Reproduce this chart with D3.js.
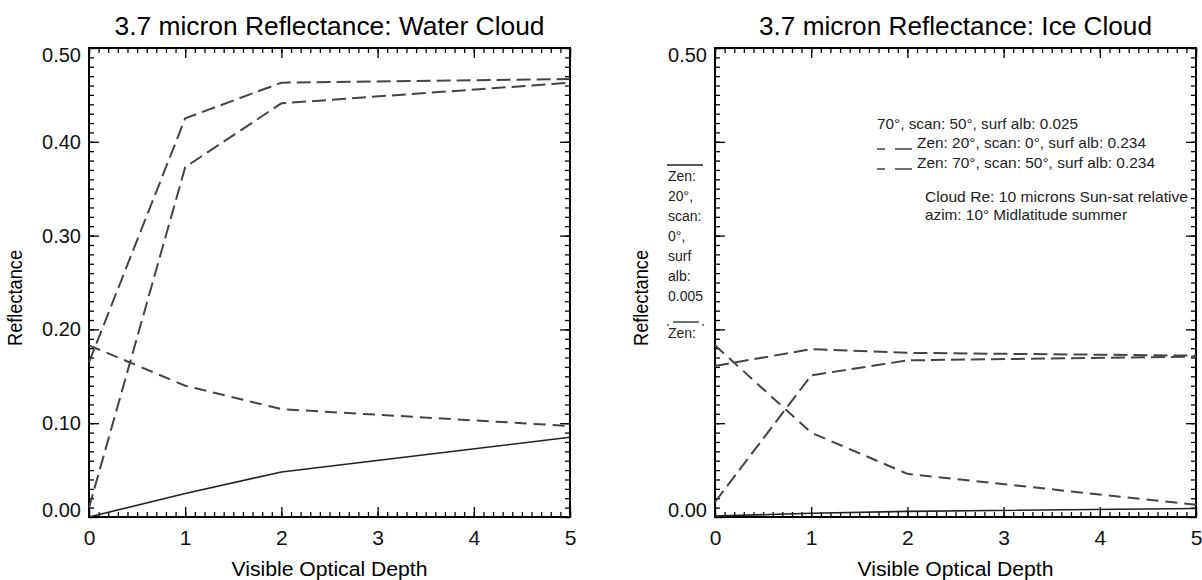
<!DOCTYPE html>
<html>
<head>
<meta charset="utf-8">
<script src="https://cdn.jsdelivr.net/npm/d3@7"></script>
<style>
    body { margin: 0; background: #fff; }
    svg { display: block; font-family: "Liberation Sans", Arial, sans-serif; }
    .tick line { stroke: #000; stroke-width: 1.3; }
    .tick text { font-size: 20px; fill: #111; }
    .series { fill: none; }
    .legend text { fill: #222; }
</style>
</head>
<body>
<svg id="chart"></svg>
<script>
// optical depths at which the model was run
var depth = [0, 1, 2, 5];

// Water cloud reflectances
var waterZen20Alb005 = [0.000, 0.025, 0.048, 0.085];
var waterZen70Alb025 = [0.165, 0.425, 0.463, 0.467];
var waterZen20Alb234 = [0.010, 0.373, 0.441, 0.463];
var waterZen70Alb234 = [0.183, 0.140, 0.115, 0.097];

// Ice cloud reflectances
var iceZen20Alb005 = [0.001, 0.004, 0.006, 0.009];
var iceZen70Alb025 = [0.161, 0.179, 0.175, 0.172];
var iceZen20Alb234 = [0.016, 0.151, 0.167, 0.171];
var iceZen70Alb234 = [0.183, 0.090, 0.046, 0.013];

var xTicks = [0, 1, 2, 3, 4, 5];
var yTicks = [0, 0.1, 0.2, 0.3, 0.4, 0.5];

var width = 1202, height = 580;
var top_ = 48, bottom_ = 517, panelW = 481;

var svg = d3.select("#chart")
    .attr("width", width)
    .attr("height", height);

var panels = [
    {
        left: 89,
        title: "3.7 micron Reflectance: Water Cloud",
        titleLen: 430,
        series: [
            {values: waterZen20Alb005, dash: null},
            {values: waterZen70Alb025, dash: "14,6"},
            {values: waterZen20Alb234, dash: "14,6"},
            {values: waterZen70Alb234, dash: "12,7"}
        ],
        allLabels: true
    },
    {
        left: 715,
        title: "3.7 micron Reflectance: Ice Cloud",
        titleLen: 393,
        series: [
            {values: iceZen20Alb005, dash: null},
            {values: iceZen70Alb025, dash: "14,6"},
            {values: iceZen20Alb234, dash: "14,6"},
            {values: iceZen70Alb234, dash: "12,7"}
        ],
        allLabels: false
    }
];

panels.forEach(function(p) {
    var x = d3.scaleLinear().domain([0, 5]).range([p.left, p.left + panelW]);
    var y = d3.scaleLinear().domain([0, 0.5]).range([bottom_, top_]);
    var g = svg.append("g");

    // minor ticks on all four sides
    var xMinor = d3.range(0, 5.001, 0.1).map(function(v) { return +v.toFixed(2); });
    var yMinor = d3.range(0, 0.5001, 0.01).map(function(v) { return +v.toFixed(3); });

    g.append("g").attr("transform", "translate(0," + bottom_ + ")")
        .call(d3.axisBottom(x).tickValues(xMinor).tickSize(-5).tickFormat(""));
    g.append("g").attr("transform", "translate(0," + top_ + ")")
        .call(d3.axisTop(x).tickValues(xMinor).tickSize(-5).tickFormat(""));
    g.append("g").attr("transform", "translate(" + p.left + ",0)")
        .call(d3.axisLeft(y).tickValues(yMinor).tickSize(-5).tickFormat(""));
    g.append("g").attr("transform", "translate(" + (p.left + panelW) + ",0)")
        .call(d3.axisRight(y).tickValues(yMinor).tickSize(-5).tickFormat(""));

    // major ticks + labels
    var xl = g.append("g").attr("transform", "translate(0," + bottom_ + ")")
        .call(d3.axisBottom(x).tickValues(xTicks).tickSize(-10).tickPadding(13)
            .tickFormat(d3.format("d")));
    xl.selectAll(".tick text").style("font-size", "21px");
    g.append("g").attr("transform", "translate(0," + top_ + ")")
        .call(d3.axisTop(x).tickValues(xTicks).tickSize(-10).tickFormat(""));
    var yl = g.append("g").attr("transform", "translate(" + p.left + ",0)")
        .call(d3.axisLeft(y).tickValues(yTicks).tickSize(-10).tickPadding(8)
            .tickFormat(function(d) {
                if (p.allLabels || d == 0 || d == 0.5) return d3.format(".2f")(d);
                return "";
            }));
    g.append("g").attr("transform", "translate(" + (p.left + panelW) + ",0)")
        .call(d3.axisRight(y).tickValues(yTicks).tickSize(-10).tickFormat(""));

    // IDL pushes the end labels inside the box a little
    yl.selectAll(".tick text")
        .attr("dy", function(d) {
            if (d == 0) return "-0.05em";
            if (d == 0.5) return "0.68em";
            return "0.32em";
        });

    g.selectAll(".domain").remove();

    g.append("rect")
        .attr("x", p.left).attr("y", top_)
        .attr("width", panelW).attr("height", bottom_ - top_)
        .attr("fill", "none").attr("stroke", "#000").attr("stroke-width", 2);

    var line = d3.line()
        .x(function(d, i) { return x(depth[i]); })
        .y(function(d) { return y(d); });

    g.selectAll("path.series")
        .data(p.series)
        .enter()
        .append("path")
        .attr("class", "series")
        .attr("d", function(s) { return line(s.values); })
        .attr("stroke", function(s) { return s.dash ? "#444" : "#222"; })
        .attr("stroke-width", function(s) { return s.dash ? 2 : 1.6; })
        .attr("stroke-dasharray", function(s) { return s.dash; });

    g.append("text")
        .attr("x", p.left + panelW / 2)
        .attr("y", 35)
        .attr("text-anchor", "middle")
        .attr("font-size", 26)
        .attr("textLength", p.titleLen)
        .attr("lengthAdjust", "spacingAndGlyphs")
        .text(p.title);

    g.append("text")
        .attr("x", p.left + panelW / 2)
        .attr("y", 576)
        .attr("text-anchor", "middle")
        .attr("font-size", 20)
        .attr("textLength", 196)
        .attr("lengthAdjust", "spacingAndGlyphs")
        .text("Visible Optical Depth");

    g.append("text")
        .attr("transform", "translate(" + (p.left - 67) + ",298) rotate(-90)")
        .attr("text-anchor", "middle")
        .attr("font-size", 20)
        .attr("textLength", 96)
        .attr("lengthAdjust", "spacingAndGlyphs")
        .text("Reflectance");
});

// the (broken) legend of the ice cloud panel
var leg = svg.append("g").attr("class", "legend");

var colText = ["Zen:", "20°,", "scan:", "0°,", "surf", "alb:", "0.005"];
leg.append("line")
    .attr("x1", 667).attr("x2", 703).attr("y1", 165).attr("y2", 165)
    .attr("stroke", "#222").attr("stroke-width", 1.3);
leg.selectAll("text.col")
    .data(colText)
    .enter()
    .append("text")
    .attr("class", "col")
    .attr("x", 668)
    .attr("y", function(d, i) { return 181 + i * 20; })
    .attr("font-size", 14)
    .text(function(d) { return d; });

leg.append("line")
    .attr("x1", 673).attr("x2", 699).attr("y1", 322).attr("y2", 322)
    .attr("stroke", "#222").attr("stroke-width", 1.3);
leg.selectAll("circle")
    .data([668, 703])
    .enter()
    .append("circle")
    .attr("cx", function(d) { return d; })
    .attr("cy", 325).attr("r", 0.9).attr("fill", "#444");
leg.append("text").attr("x", 668).attr("y", 338).attr("font-size", 14).text("Zen:");

var legRows = [
    {text: "70°, scan: 50°, surf alb: 0.025", x: 877, y: 129, len: 201, sample: false},
    {text: "Zen: 20°, scan: 0°, surf alb: 0.234", x: 917, y: 148, len: 229, sample: true},
    {text: "Zen: 70°, scan: 50°, surf alb: 0.234", x: 917, y: 168, len: 238, sample: true},
    {text: "Cloud  Re: 10 microns Sun-sat relative", x: 925, y: 202, len: 263, sample: false},
    {text: "azim: 10° Midlatitude  summer", x: 925, y: 220, len: 202, sample: false}
];
legRows.forEach(function(r) {
    leg.append("text")
        .attr("x", r.x).attr("y", r.y)
        .attr("font-size", 15)
        .attr("textLength", r.len)
        .attr("lengthAdjust", "spacingAndGlyphs")
        .text(r.text);
    if (r.sample) {
        leg.append("line")
            .attr("x1", 877).attr("x2", 885).attr("y1", r.y + 1).attr("y2", r.y + 1)
            .attr("stroke", "#222").attr("stroke-width", 1.3);
        leg.append("line")
            .attr("x1", 895).attr("x2", 912).attr("y1", r.y + 1).attr("y2", r.y + 1)
            .attr("stroke", "#222").attr("stroke-width", 1.3);
    }
});
</script>
</body>
</html>
